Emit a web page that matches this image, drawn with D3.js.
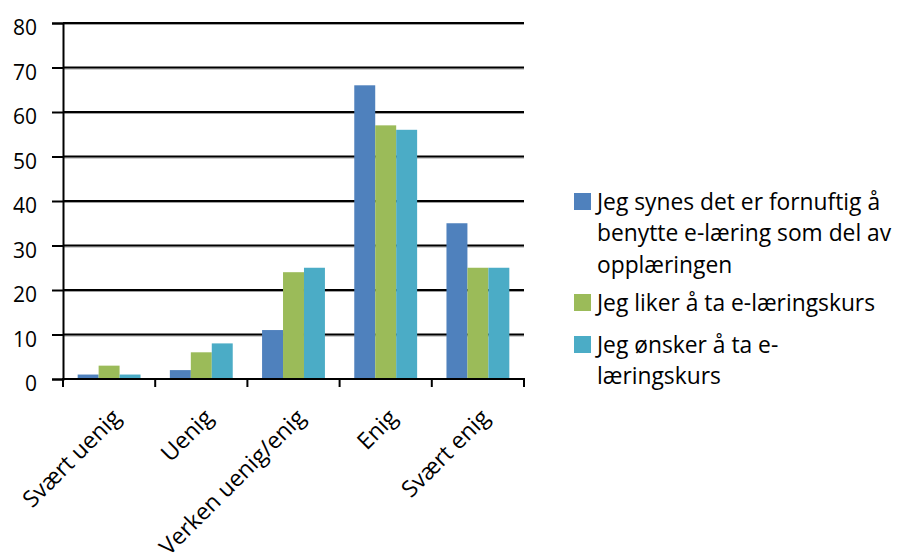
<!DOCTYPE html>
<html><head><meta charset="utf-8">
<script src="https://cdn.jsdelivr.net/npm/d3@7"></script>
<style>body{margin:0;background:#fff}svg text{font-family:"Open Sans","Noto Sans",sans-serif;fill:#000}</style>
</head><body><svg id="c" width="900" height="556"></svg>
<script>
const categories = ["Svært uenig","Uenig","Verken uenig/enig","Enig","Svært enig"];
const seriesNames = [["Jeg synes det er fornuftig å","benytte e-læring som del av","opplæringen"],["Jeg liker å ta e-læringskurs"],["Jeg ønsker å ta e-","læringskurs"]];
const seriesA = [1,2,11,66,35];
const seriesB = [3,6,24,57,25];
const seriesC = [1,8,25,56,25];
const colors = ["#4F81BD","#9BBB59","#4BACC6"];
const yTicks = [0,10,20,30,40,50,60,70,80];

const svg = d3.select("#c");
const L=63, R=524, T=23, B=379;
const x = d3.scaleBand().domain(categories).range([L,R]).paddingInner(0).paddingOuter(0);
const y = d3.scaleLinear().domain([0,80]).range([B,T]);
const inner = d3.scaleBand().domain([0,1,2]).range([0,x.bandwidth()]).paddingInner(0).paddingOuter(0.7);

// gridlines
const grid = svg.append("g");
yTicks.filter(d=>d>0).forEach(t=>{
  grid.append("line").attr("x1",L).attr("x2",R).attr("y1",y(t)+1.5).attr("y2",y(t)+1.5).attr("stroke","#a0a0a0").attr("stroke-width",1);
  grid.append("line").attr("x1",L).attr("x2",R).attr("y1",y(t)).attr("y2",y(t)).attr("stroke","#000").attr("stroke-width",2);
});

// bars
const series=[seriesA,seriesB,seriesC];
series.forEach((s,i)=>{
  svg.append("g").selectAll("rect").data(s).join("rect")
    .attr("x",(d,j)=>x(categories[j])+inner(i))
    .attr("width",inner.bandwidth())
    .attr("y",d=>y(d)).attr("height",d=>B-y(d))
    .attr("fill",colors[i]);
});

// y axis
const ya = svg.append("g").attr("transform",`translate(${L},0)`)
  .call(d3.axisLeft(y).tickValues(yTicks).tickSize(11).tickPadding(15));
ya.select(".domain").attr("stroke","#000").attr("stroke-width",2);
ya.selectAll(".tick line").attr("stroke","#000").attr("stroke-width",2);
ya.selectAll("text").attr("font-size",21).attr("dy","0.55em").style("font-family","Open Sans").attr("fill","#000");

// x axis
const xa = svg.append("g").attr("transform",`translate(0,${B})`);
xa.append("line").attr("x1",L-1).attr("x2",R+1).attr("y1",0).attr("y2",0).attr("stroke","#000").attr("stroke-width",2);
const bounds = categories.map(c=>x(c)).concat([R]);
xa.selectAll("line.tk").data(bounds).join("line").attr("class","tk")
  .attr("x1",d=>d).attr("x2",d=>d).attr("y1",0).attr("y2",8).attr("stroke","#000").attr("stroke-width",2);
xa.selectAll("text").data(categories).join("text")
  .attr("transform",d=>`translate(${x(d)+x.bandwidth()/2+13},${40}) rotate(-45)`)
  .attr("text-anchor","end").attr("font-size",23).text(d=>d);

// legend
const lg = svg.append("g");
const itemY = [202, 303, 345];
seriesNames.forEach((lines,i)=>{
  lg.append("rect").attr("x",574).attr("y",itemY[i]-9).attr("width",17).attr("height",17).attr("fill",colors[i]);
  lines.forEach((ln,k)=>{
    lg.append("text").attr("x",597).attr("y",itemY[i]+k*31.5).attr("dy","0.35em").attr("font-size",22.8).text(ln);
  });
});
</script></body></html>
